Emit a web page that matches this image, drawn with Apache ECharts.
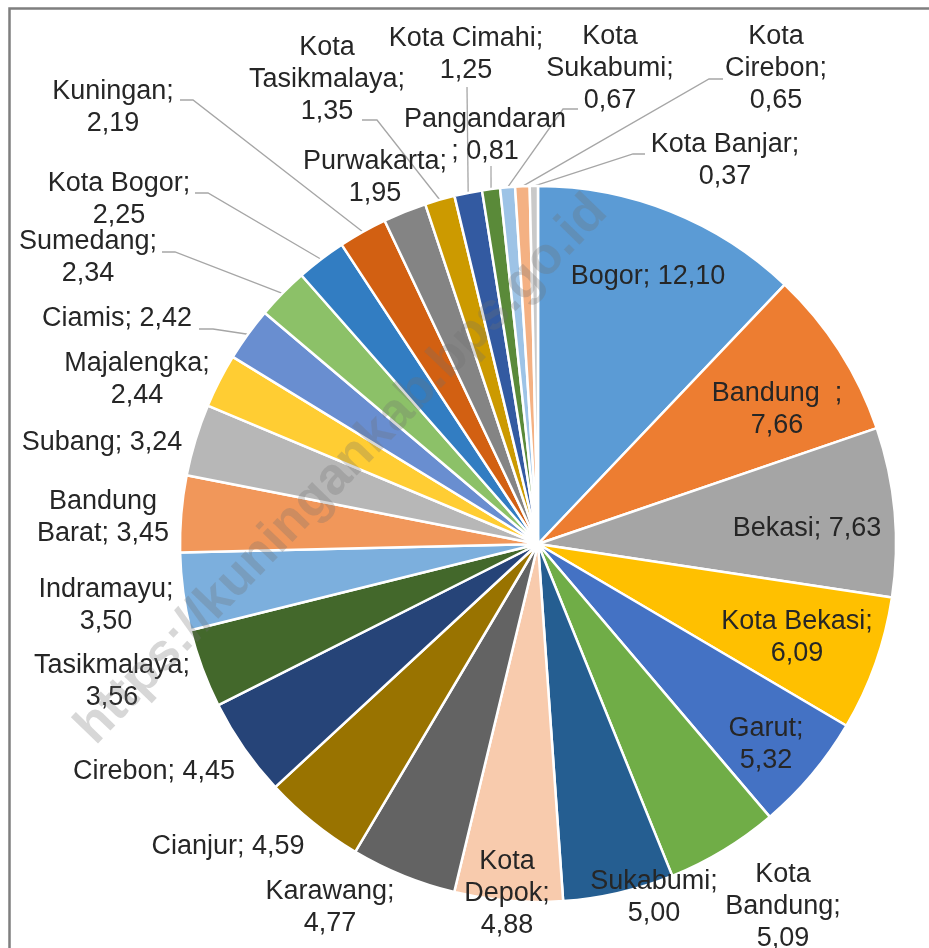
<!DOCTYPE html>
<html>
<head>
<meta charset="utf-8">
<script src="https://cdn.jsdelivr.net/npm/echarts@6/dist/echarts.min.js"></script>
<style>
html,body{margin:0;padding:0;background:#fff;}
#chart{width:929px;height:948px;}
</style>
</head>
<body>
<div id="chart"></div>
<script>
// ---- data ----
const categories = [
  'Bogor', 'Bandung  ', 'Bekasi', 'Kota Bekasi', 'Garut', 'Kota Bandung',
  'Sukabumi', 'Kota Depok', 'Karawang', 'Cianjur', 'Cirebon', 'Tasikmalaya',
  'Indramayu', 'Bandung Barat', 'Subang', 'Majalengka', 'Ciamis', 'Sumedang',
  'Kota Bogor', 'Kuningan', 'Purwakarta', 'Kota Tasikmalaya', 'Kota Cimahi',
  'Pangandaran ', 'Kota Sukabumi', 'Kota Cirebon', 'Kota Banjar'
];
const values = [
  12.10, 7.66, 7.63, 6.09, 5.32, 5.09,
  5.00, 4.88, 4.77, 4.59, 4.45, 3.56,
  3.50, 3.45, 3.24, 2.44, 2.42, 2.34,
  2.25, 2.19, 1.95, 1.35, 1.25,
  0.81, 0.67, 0.65, 0.37
];

// ---- styles ----
const palette = [
  '#5B9BD5', '#ED7D31', '#A5A5A5', '#FFC000', '#4472C4', '#70AD47',
  '#255E91', '#F8CBAD', '#636363', '#997300', '#264478', '#43682B',
  '#7CAFDD', '#F1975A', '#B7B7B7', '#FFCD33', '#698ED0', '#8CC168',
  '#327DC2', '#D26012', '#848484', '#CC9A00', '#335AA1',
  '#5A8A39', '#9DC3E6', '#F4B183', '#C9C9C9'
];
// how each data label wraps (as in the reference)
const labelWrap = [
  'one', 'two', 'one', 'two', 'two', 'split',
  'two', 'split', 'two', 'one', 'one', 'two',
  'two', 'first', 'one', 'two', 'one', 'two',
  'two', 'two', 'two', 'split', 'two',
  'semi', 'split', 'split', 'two'
];

// ---- label layout (text block centres, px) ----
const labelAnchor = [
  [648, 277], [777, 410], [807, 529], [797, 638], [766, 745], [783, 907],
  [654, 898], [507, 894], [330, 908], [228, 847], [154, 772], [112, 682],
  [106, 606], [103, 518], [102, 443], [137, 380], [117, 319], [88, 258],
  [119, 200], [113, 108], [375, 178], [327, 80], [466, 55],
  [485, 136], [610, 69], [776, 69], [725, 161]
];
// leader lines: [bend point, end point near the label]
const leaderBend = {
  16: [[213, 329], [199, 329]],
  17: [[175, 252], [162, 252]],
  18: [[208, 193], [195, 193]],
  19: [[193, 100], [180, 100]],
  21: [[377, 120], [362, 120]],
  22: [[467, 87], [467, 87]],
  23: [[491, 166], [491, 166]],
  24: [[563, 109], [578, 109]],
  25: [[709, 79], [723, 79]],
  26: [[633, 154], [645, 154]]
};

function fmtValue(v) { return v.toFixed(2).replace('.', ','); }
function formatLabel(p) {
  const i = p.dataIndex, n = p.name, v = fmtValue(p.value);
  switch (labelWrap[i]) {
    case 'one': return n + '; ' + v;
    case 'two': return n + ';\n' + v;
    case 'split': return n.split(' ').join('\n') + ';\n' + v;
    case 'first': {
      const w = n.split(' ');
      return w[0] + '\n' + w.slice(1).join(' ') + '; ' + v;
    }
    case 'semi': return n.trim() + '\n; ' + v;
  }
  return n + '; ' + v;
}

const pieData = categories.map((c, i) => ({
  name: c,
  value: values[i],
  itemStyle: { color: palette[i] },
  labelLine: { show: !!leaderBend[i] }
}));

const chart = echarts.init(document.getElementById('chart'), null, { renderer: 'canvas' });
chart.setOption({
  animation: false,
  backgroundColor: '#ffffff',
  graphic: [
    {
      type: 'polyline', z: 50, silent: true,
      shape: { points: [[9.5, 948], [9.5, 8.5], [929, 8.5]] },
      style: { stroke: '#7f7f7f', lineWidth: 2.5, fill: null }
    },
    {
      type: 'text', z: 100, silent: true,
      x: 342, y: 470, rotation: Math.PI * 46 / 180,
      style: {
        text: 'https://kuningankab.bps.go.id',
        font: 'bold 52px "Liberation Sans", Arial, sans-serif',
        fill: 'rgba(110,110,110,0.28)',
        align: 'center', verticalAlign: 'middle'
      }
    }
  ],
  series: [{
    type: 'pie',
    center: [538, 544],
    radius: 358,
    startAngle: 90,
    clockwise: true,
    avoidLabelOverlap: false,
    data: pieData,
    itemStyle: { borderColor: '#ffffff', borderWidth: 2.5 },
    label: {
      show: true,
      position: 'outside',
      formatter: formatLabel,
      color: '#262626',
      fontSize: 27,
      lineHeight: 32,
      fontFamily: '"Liberation Sans", Arial, sans-serif'
    },
    labelLine: {
      show: false,
      lineStyle: { color: '#a6a6a6', width: 1.3 }
    },
    labelLayout: function (p) {
      const i = p.dataIndex;
      const a = labelAnchor[i];
      const out = { x: a[0], y: a[1], align: 'center', verticalAlign: 'middle' };
      const b = leaderBend[i];
      if (b && p.labelLinePoints) {
        out.labelLinePoints = [p.labelLinePoints[0], b[0], b[1]];
      }
      return out;
    },
    emphasis: { disabled: true }
  }]
});
</script>
</body>
</html>
